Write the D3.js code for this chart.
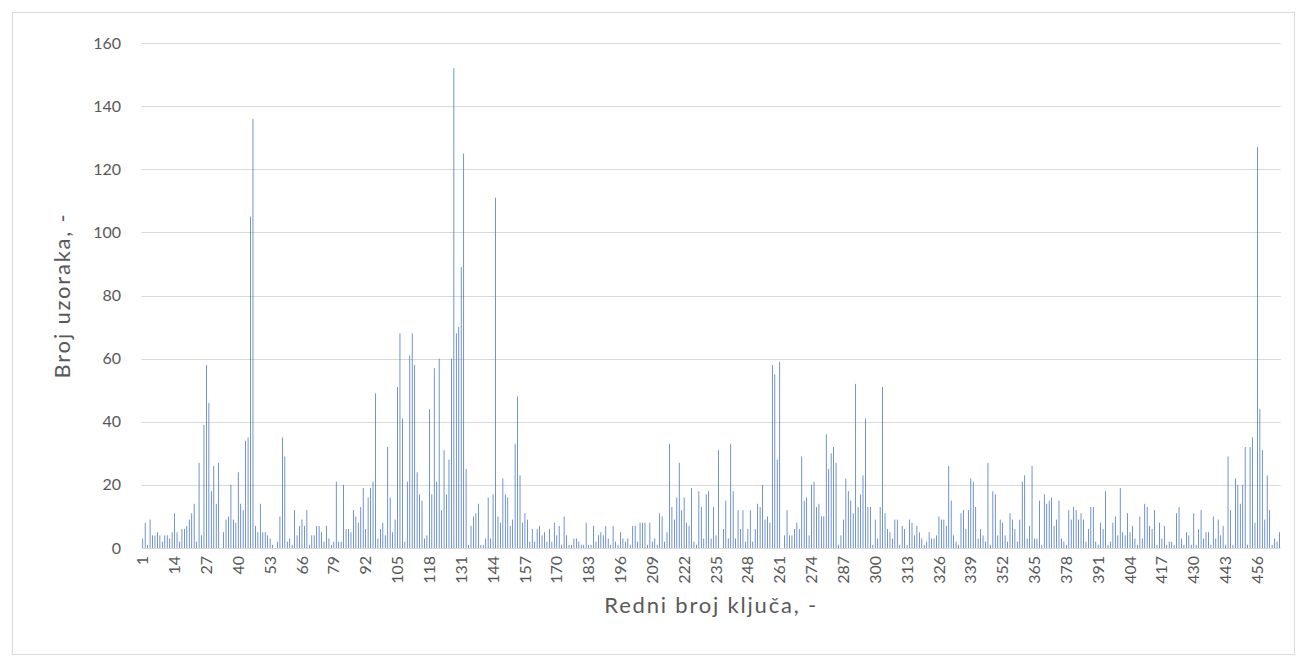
<!DOCTYPE html>
<html lang="hr">
<head>
  <meta charset="UTF-8" />
  <title>Broj uzoraka po ključu</title>
  <style>
    html, body { margin:0; padding:0; background:#fff; }
    svg { display:block; font-family: Lato, "Open Sans", sans-serif; }
    .tick-label { fill:#595959; font-size:16px; }
    .axis-title { fill:#595959; font-size:22px; letter-spacing:1.8px; }
  </style>
</head>
<body>
  <svg id="chart" width="1296" height="666"></svg>
  <script src="https://d3js.org/d3.v7.min.js"></script>
  <script>
    // Broj uzoraka for each key, 1..465
    const counts = [
      3,8,1,9,4,4,5,4,2,4,4,3,5,11,5,2,6,6,7,9,11,14,2,27,4,39,58,46,18,26,14,27,0,5,9,10,20,9,
      8,24,14,12,34,35,105,136,7,5,14,5,5,4,3,1,0,2,10,35,29,2,3,1,12,4,7,9,7,12,1,4,4,7,7,5,2,7,3,
      1,2,21,2,2,20,6,6,5,12,10,8,13,19,6,16,19,21,49,3,6,8,4,32,16,5,9,51,68,41,2,21,61,68,58,24,17,15,3,
      4,44,17,57,21,60,12,31,17,28,60,152,68,70,89,125,25,1,7,10,11,14,1,1,3,16,3,17,111,10,8,22,17,16,7,9,33,48,23,
      8,11,9,2,6,2,6,7,4,5,2,6,2,8,4,7,1,10,4,1,1,3,3,2,1,1,8,1,1,7,2,4,5,4,7,3,1,7,2,1,
      5,3,2,3,1,7,7,2,8,8,8,1,8,2,3,1,11,10,2,5,33,13,9,16,27,12,16,8,7,19,2,1,18,13,3,17,18,3,13,
      4,31,0,6,15,3,33,18,3,12,6,12,2,6,12,2,6,14,13,20,9,10,8,58,55,28,59,0,4,12,4,4,6,8,6,29,15,16,4,
      20,21,13,14,10,10,36,25,30,32,27,1,4,9,22,18,15,11,52,13,17,23,41,13,13,1,9,3,13,51,11,6,5,3,9,9,1,7,6,
      1,9,8,4,7,5,3,1,2,5,3,3,4,10,9,9,7,26,15,4,2,1,11,12,6,12,22,21,13,3,6,4,2,27,1,18,17,4,9,
      8,4,2,11,9,6,2,9,21,23,3,7,26,3,3,15,1,17,14,15,16,7,9,15,3,2,1,12,9,13,12,9,11,9,2,6,13,13,2,
      1,8,6,18,1,2,8,10,4,19,5,4,11,5,7,3,1,10,3,14,13,7,6,12,1,8,3,7,1,2,2,1,11,13,3,1,5,4,1,11,
      1,6,12,3,5,5,1,10,3,9,4,7,1,29,12,1,22,20,14,20,32,1,32,35,8,127,44,31,9,23,12,1,3,2,5
    ];
    const keys = counts.map((_, i) => i + 1);

    const yTicks = [0, 20, 40, 60, 80, 100, 120, 140, 160];
    const xTickLabels = [1,14,27,40,53,66,79,92,105,118,131,144,157,170,183,196,209,222,235,248,
      261,274,287,300,313,326,339,352,365,378,391,404,417,430,443,456];

    const yTitle = 'Broj uzoraka, -';
    const xTitle = 'Redni broj ključa, -';

    // plot area
    const plotL = 141.5, plotR = 1280.7, plotT = 43, plotB = 548;

    const svg = d3.select('#chart');

    // outer chart border
    svg.append('rect')
      .attr('x', 12.5).attr('y', 12.5)
      .attr('width', 1282).attr('height', 642)
      .attr('fill', '#fff').attr('stroke', '#d9d9d9');

    const x = d3.scaleBand().domain(keys).range([plotL, plotR])
      .paddingInner(0.69).paddingOuter(0.345);
    const y = d3.scaleLinear().domain([0, 160]).range([plotB, plotT]);

    // gridlines
    svg.append('g').selectAll('line')
      .data(yTicks.filter(t => t > 0))
      .join('line')
      .attr('x1', plotL).attr('x2', plotR)
      .attr('y1', d => Math.round(y(d)) + 0.5).attr('y2', d => Math.round(y(d)) + 0.5)
      .attr('stroke', '#d9d9d9').attr('stroke-width', 1);

    // bars
    svg.append('g').selectAll('rect')
      .data(counts)
      .join('rect')
      .attr('x', (d, i) => x(keys[i]))
      .attr('y', d => y(d))
      .attr('width', x.bandwidth())
      .attr('height', d => plotB - y(d))
      .attr('fill', '#4472c4');

    // x axis line
    svg.append('line')
      .attr('x1', plotL).attr('x2', plotR)
      .attr('y1', plotB + 0.5).attr('y2', plotB + 0.5)
      .attr('stroke', '#d9d9d9');

    // y tick labels
    svg.append('g').selectAll('text')
      .data(yTicks)
      .join('text')
      .attr('class', 'tick-label')
      .attr('x', 121)
      .attr('y', d => y(d))
      .attr('dy', '0.35em')
      .attr('text-anchor', 'end')
      .text(d => d);

    // x tick labels, rotated
    svg.append('g').selectAll('text')
      .data(xTickLabels)
      .join('text')
      .attr('class', 'tick-label')
      .attr('transform', d => `translate(${x(d) + x.bandwidth() / 2},${plotB + 8}) rotate(-90)`)
      .attr('text-anchor', 'end')
      .attr('dy', '0.35em')
      .text(d => d);

    // axis titles
    svg.append('text')
      .attr('class', 'axis-title')
      .attr('transform', `translate(70,${(plotT + plotB) / 2}) rotate(-90)`)
      .attr('text-anchor', 'middle')
      .text(yTitle);

    svg.append('text')
      .attr('class', 'axis-title')
      .attr('x', (plotL + plotR) / 2)
      .attr('y', 613)
      .attr('text-anchor', 'middle')
      .text(xTitle);
  </script>
</body>
</html>
